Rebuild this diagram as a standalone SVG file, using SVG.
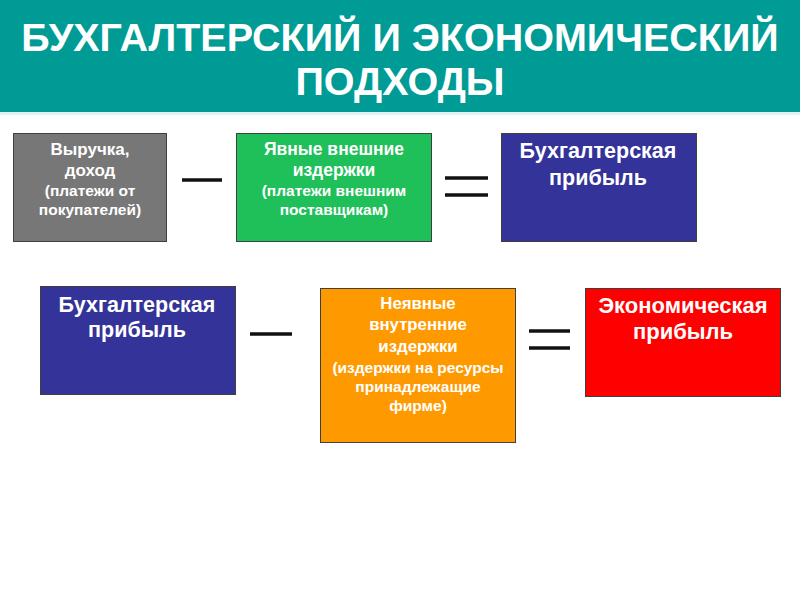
<svg xmlns="http://www.w3.org/2000/svg" width="800" height="600" viewBox="0 0 800 600">
<style>
.box{stroke:#404040;stroke-width:1}
.t{font-family:"Liberation Sans",Arial,sans-serif;font-weight:bold;fill:#ffffff;text-anchor:middle}
.op{stroke:#111111;stroke-width:3.5;fill:none}
.title{font-family:"Liberation Sans",Arial,sans-serif;font-weight:bold;fill:#ffffff;text-anchor:middle;font-size:39.5px}
</style>
<rect x="0" y="0" width="800" height="600" fill="#ffffff"/>
<rect x="0" y="0" width="800" height="112" fill="#009b95"/>
<rect x="0" y="112" width="800" height="3" fill="#dff3f2"/>
<text class="title" x="400" y="51">БУХГАЛТЕРСКИЙ И ЭКОНОМИЧЕСКИЙ</text>
<text class="title" x="400" y="95">ПОДХОДЫ</text>

<g id="revenue">
<rect class="box" x="13.5" y="133.5" width="153" height="108" fill="#777777"/>
<text class="t" x="90" y="155" font-size="17">Выручка,</text>
<text class="t" x="90" y="176" font-size="17">доход</text>
<text class="t" x="90" y="196" font-size="15.5">(платежи от</text>
<text class="t" x="90" y="215" font-size="15.5">покупателей)</text>
</g>
<g id="explicit">
<rect class="box" x="236.5" y="133.5" width="195" height="108" fill="#1fbf5a"/>
<text class="t" x="334" y="155" font-size="17.5">Явные внешние</text>
<text class="t" x="334" y="176" font-size="17.5">издержки</text>
<text class="t" x="334" y="196" font-size="15.5">(платежи внешним</text>
<text class="t" x="334" y="215" font-size="15.5">поставщикам)</text>
</g>
<g id="accprofit1">
<rect class="box" x="501.5" y="133.5" width="195" height="108" fill="#333399"/>
<text class="t" x="598" y="158" font-size="21.5">Бухгалтерская</text>
<text class="t" x="598" y="185" font-size="21.5">прибыль</text>
</g>
<g id="accprofit2">
<rect class="box" x="40.5" y="286.5" width="195" height="108" fill="#333399"/>
<text class="t" x="137" y="312" font-size="21.5">Бухгалтерская</text>
<text class="t" x="137" y="337" font-size="21.5">прибыль</text>
</g>
<g id="implicit">
<rect class="box" x="320.5" y="288.5" width="195" height="154" fill="#ff9900"/>
<text class="t" x="418" y="309" font-size="16.8">Неявные</text>
<text class="t" x="418" y="330" font-size="16.8">внутренние</text>
<text class="t" x="418" y="352" font-size="16.8">издержки</text>
<text class="t" x="418" y="373" font-size="15.5">(издержки на ресурсы</text>
<text class="t" x="418" y="392" font-size="15.5">принадлежащие</text>
<text class="t" x="418" y="411" font-size="15.5">фирме)</text>
</g>
<g id="ecoprofit">
<rect class="box" x="585.5" y="288.5" width="195" height="108" fill="#ff0000"/>
<text class="t" x="683" y="313" font-size="22">Экономическая</text>
<text class="t" x="683" y="339" font-size="22">прибыль</text>
</g>
<g id="connectors">
<line class="op" x1="182" y1="180" x2="222" y2="180"/>
<line class="op" x1="445" y1="178" x2="488" y2="178"/>
<line class="op" x1="445" y1="195" x2="488" y2="195"/>
<line class="op" x1="250" y1="334" x2="292" y2="334"/>
<line class="op" x1="529" y1="331" x2="570" y2="331"/>
<line class="op" x1="529" y1="348" x2="570" y2="348"/>
</g>
</svg>
